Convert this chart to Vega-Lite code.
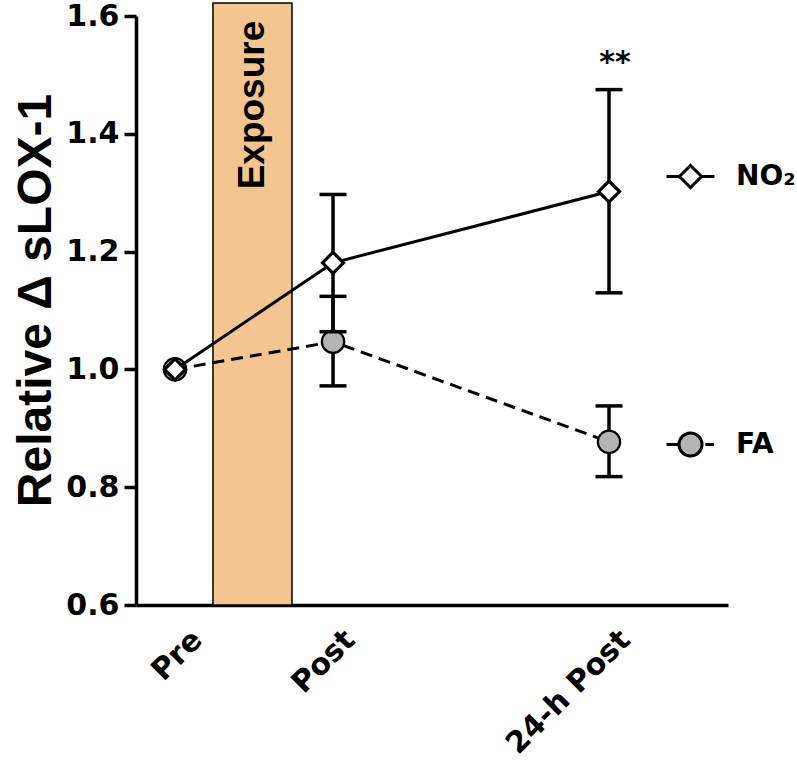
{
  "$schema": "https://vega.github.io/schema/vega-lite/v6.json",
  "width": 592,
  "height": 589,
  "autosize": "none",
  "padding": {"left": 136, "top": 16, "right": 69, "bottom": 155},
  "background": "white",
  "config": {"view": {"stroke": null}},
  "datasets": {
    "obs": [
      {"series": "NO₂", "time": "Pre", "t": 6.59, "mean": 1.0, "lo": null, "hi": null},
      {"series": "NO₂", "time": "Post", "t": 33.28, "mean": 1.181, "lo": 1.064, "hi": 1.297},
      {"series": "NO₂", "time": "24-h Post", "t": 79.9, "mean": 1.302, "lo": 1.13, "hi": 1.475},
      {"series": "FA", "time": "Pre", "t": 6.59, "mean": 1.0, "lo": null, "hi": null},
      {"series": "FA", "time": "Post", "t": 33.28, "mean": 1.047, "lo": 0.972, "hi": 1.124},
      {"series": "FA", "time": "24-h Post", "t": 79.9, "mean": 0.877, "lo": 0.818, "hi": 0.938}
    ],
    "exposure": [
      {"label": "Exposure", "x0": 13.0, "x1": 26.35, "xmid": 19.7, "y0": 0.6, "y1": 1.622, "ytext": 1.592}
    ],
    "note": [
      {"text": "**", "t": 80.9, "y": 1.505}
    ]
  },
  "layer": [
    {
      "data": {"name": "exposure"},
      "mark": {"type": "rect", "fill": "#F5C591", "stroke": "black", "strokeWidth": 1.5},
      "encoding": {
        "x": {"field": "x0", "type": "quantitative", "scale": {"domain": [0, 100], "nice": false, "zero": false},
          "axis": {
            "title": null, "ticks": false, "grid": false,
            "domainColor": "black", "domainWidth": 3.5,
            "values": [10.3, 36.1, 82.6],
            "labelExpr": "datum.value < 20 ? 'Pre' : datum.value < 50 ? 'Post' : '24-h Post'",
            "labelAngle": -45, "labelAlign": "right", "labelBaseline": "middle",
            "labelPadding": 30, "labelFont": "DejaVu Sans", "labelFontWeight": "bold",
            "labelFontSize": 30, "labelColor": "black", "labelOverlap": false, "labelBound": false, "labelFlush": false,
            "encode": {"labels": {
              "dx": {"signal": "datum.value > 20 && datum.value < 50 ? -8 : 0"},
              "dy": {"signal": "datum.value > 20 && datum.value < 50 ? 8 : 0"}
            }}
          }},
        "x2": {"field": "x1"},
        "y": {"field": "y0", "type": "quantitative", "scale": {"domain": [0.6, 1.6], "nice": false, "zero": false},
          "axis": {
            "title": "Relative Δ sLOX-1", "titleFont": "Liberation Sans", "titleFontWeight": "bold",
            "titleFontSize": 48, "titleColor": "black", "titleAngle": -90, "titleAlign": "center",
            "titleBaseline": "alphabetic", "titleX": -86, "titleY": 284,
            "values": [0.6, 0.8, 1.0, 1.2, 1.4, 1.6], "format": ".1f", "grid": false,
            "domainColor": "black", "domainWidth": 3.5, "tickColor": "black", "tickWidth": 3.5, "tickSize": 12,
            "labelPadding": 5, "labelFont": "DejaVu Sans", "labelFontWeight": "bold", "labelFontSize": 30,
            "labelColor": "black", "labelOverlap": false, "labelFlush": false
          }},
        "y2": {"field": "y1"}
      }
    },
    {
      "data": {"name": "exposure"},
      "mark": {"type": "text", "angle": -90, "align": "right", "baseline": "middle", "font": "Liberation Sans", "fontWeight": "bold", "fontSize": 37, "color": "black"},
      "encoding": {
        "x": {"field": "xmid", "type": "quantitative"},
        "y": {"field": "ytext", "type": "quantitative"},
        "text": {"field": "label"}
      }
    },
    {
      "data": {"name": "obs"},
      "transform": [{"filter": "datum.series === 'FA'"}],
      "mark": {"type": "line", "color": "black", "strokeWidth": 3, "strokeDash": [12, 7]},
      "encoding": {
        "x": {"field": "t", "type": "quantitative"},
        "y": {"field": "mean", "type": "quantitative"}
      }
    },
    {
      "data": {"name": "obs"},
      "transform": [{"filter": "datum.series === 'FA' && datum.lo != null"}],
      "mark": {"type": "rule", "color": "black", "strokeWidth": 3.5},
      "encoding": {
        "x": {"field": "t", "type": "quantitative"},
        "y": {"field": "lo", "type": "quantitative"},
        "y2": {"field": "hi"}
      }
    },
    {
      "data": {"name": "obs"},
      "transform": [{"filter": "datum.series === 'FA' && datum.lo != null"}],
      "mark": {"type": "tick", "orient": "horizontal", "color": "black", "size": 27, "thickness": 3.5, "opacity": 1},
      "encoding": {
        "x": {"field": "t", "type": "quantitative"},
        "y": {"field": "lo", "type": "quantitative"}
      }
    },
    {
      "data": {"name": "obs"},
      "transform": [{"filter": "datum.series === 'FA' && datum.lo != null"}],
      "mark": {"type": "tick", "orient": "horizontal", "color": "black", "size": 27, "thickness": 3.5, "opacity": 1},
      "encoding": {
        "x": {"field": "t", "type": "quantitative"},
        "y": {"field": "hi", "type": "quantitative"}
      }
    },
    {
      "data": {"name": "obs"},
      "transform": [{"filter": "datum.series === 'FA'"}],
      "mark": {"type": "point", "filled": true, "shape": "circle", "fill": "#B4B4B4", "stroke": "black", "strokeWidth": 2.2, "size": 500, "opacity": 1},
      "encoding": {
        "x": {"field": "t", "type": "quantitative"},
        "y": {"field": "mean", "type": "quantitative"}
      }
    },
    {
      "data": {"name": "obs"},
      "transform": [{"filter": "datum.series === 'NO₂'"}],
      "mark": {"type": "line", "color": "black", "strokeWidth": 3},
      "encoding": {
        "x": {"field": "t", "type": "quantitative"},
        "y": {"field": "mean", "type": "quantitative"}
      }
    },
    {
      "data": {"name": "obs"},
      "transform": [{"filter": "datum.series === 'NO₂' && datum.lo != null"}],
      "mark": {"type": "rule", "color": "black", "strokeWidth": 3.5},
      "encoding": {
        "x": {"field": "t", "type": "quantitative"},
        "y": {"field": "lo", "type": "quantitative"},
        "y2": {"field": "hi"}
      }
    },
    {
      "data": {"name": "obs"},
      "transform": [{"filter": "datum.series === 'NO₂' && datum.lo != null"}],
      "mark": {"type": "tick", "orient": "horizontal", "color": "black", "size": 27, "thickness": 3.5, "opacity": 1},
      "encoding": {
        "x": {"field": "t", "type": "quantitative"},
        "y": {"field": "lo", "type": "quantitative"}
      }
    },
    {
      "data": {"name": "obs"},
      "transform": [{"filter": "datum.series === 'NO₂' && datum.lo != null"}],
      "mark": {"type": "tick", "orient": "horizontal", "color": "black", "size": 27, "thickness": 3.5, "opacity": 1},
      "encoding": {
        "x": {"field": "t", "type": "quantitative"},
        "y": {"field": "hi", "type": "quantitative"}
      }
    },
    {
      "data": {"name": "obs"},
      "transform": [{"filter": "datum.series === 'NO₂'"}],
      "mark": {"type": "point", "filled": true, "shape": "diamond", "fill": "white", "stroke": "black", "strokeWidth": 3.2, "size": 440, "opacity": 1},
      "encoding": {
        "x": {"field": "t", "type": "quantitative"},
        "y": {"field": "mean", "type": "quantitative"}
      }
    },
    {
      "data": {"name": "obs"},
      "transform": [{"filter": "false"}],
      "mark": {"type": "point", "filled": true, "stroke": "black", "strokeWidth": 3, "opacity": 1},
      "encoding": {
        "x": {"field": "t", "type": "quantitative"},
        "y": {"field": "mean", "type": "quantitative"},
        "shape": {"field": "series", "type": "nominal",
          "scale": {"domain": ["NO₂", "FA"], "range": ["M-1,0L-0.44,0M0.44,0L1,0M0,-0.46L0.46,0L0,0.46L-0.46,0Z", "M-1,0L-0.48,0M0.62,0L0.98,0M0.48,0A0.48,0.48,0,1,1,-0.48,0A0.48,0.48,0,1,1,0.48,0Z"]},
          "legend": {
            "orient": "none", "legendX": 529, "legendY": 135, "title": null, "padding": 0,
            "symbolSize": 2304, "symbolStrokeWidth": 3, "symbolOpacity": 1,
            "labelFont": "DejaVu Sans", "labelFontWeight": "bold", "labelFontSize": 28, "labelColor": "black",
            "labelOffset": 20, "rowPadding": 225, "labelLimit": 0
          }},
        "fill": {"field": "series", "type": "nominal", "scale": {"domain": ["NO₂", "FA"], "range": ["white", "#B4B4B4"]}}
      }
    },
    {
      "data": {"name": "note"},
      "mark": {"type": "text", "align": "center", "baseline": "alphabetic", "font": "DejaVu Sans", "fontWeight": "bold", "fontSize": 30, "color": "black"},
      "encoding": {
        "x": {"field": "t", "type": "quantitative"},
        "y": {"field": "y", "type": "quantitative"},
        "text": {"field": "text"}
      }
    }
  ]
}
